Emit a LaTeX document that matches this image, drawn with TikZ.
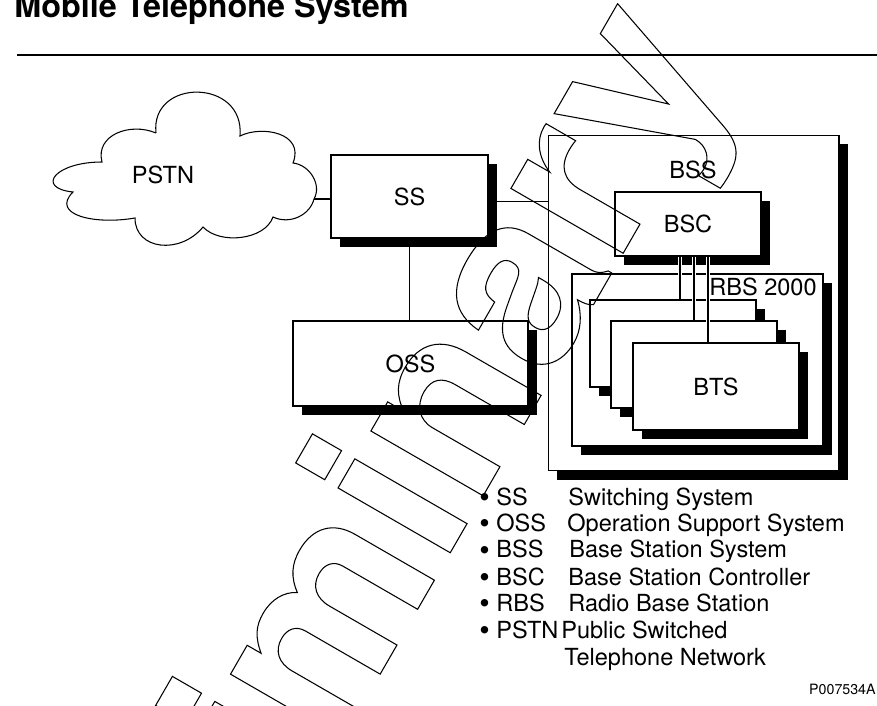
\documentclass[tikz,border=0pt]{standalone}
\usepackage{fontspec}
\setmainfont{TeX Gyre Heros}
\usetikzlibrary{positioning, calc, shadows}

\newcommand{\outlined}[1]{\special{pdf:literal direct 1 Tr 0.6 w}#1\special{pdf:literal direct 0 Tr}}
\newcommand{\bigdot}{{\fontsize{17}{17}\selectfont\raisebox{-1.5pt}{\textbullet}}}

\tikzset{
  every node/.style={font=\fontsize{13.4}{16}\selectfont},
  link/.style={line width=0.6pt},
  buslink/.style={link, preaction={draw=white, line width=2.4pt}},
  unit/.style={draw, fill=white, line width=0.6pt, inner sep=0pt, align=center,
    general shadow={fill=black, shadow xshift=0.18cm, shadow yshift=-0.18cm}},
  legend/.style={anchor=base west, inner sep=0pt},
  stamp/.style={anchor=base west, inner sep=0pt, rotate=60,
    font=\fontsize{136.6}{137}\selectfont\bfseries},
}

\begin{document}
\begin{tikzpicture}[x=0.02cm, y=-0.02cm]
  \useasboundingbox (0,0) rectangle (877,706);
  % heading
  \node[anchor=base west, inner sep=0pt, font=\fontsize{18.4}{20}\selectfont\bfseries]
    (title) at (14,18) {Mobile Telephone System};
  \draw[line width=0.9pt] (17,55) -- (877,55);
  % the PSTN cloud
  \draw[link] (156,133) .. controls (150,78) and (245,78) .. (240,136)
    .. controls (262,125) and (305,133) .. (293,163)
    .. controls (310,165) and (322,185) .. (314,199)
    .. controls (310,215) and (290,225) .. (273,217)
    .. controls (265,240) and (220,245) .. (203,227)
    .. controls (180,255) and (135,250) .. (135,218)
    .. controls (95,225) and (50,215) .. (73,192)
    .. controls (35,188) and (55,162) .. (102,162)
    .. controls (95,135) and (130,122) .. (156,133);
  \node (pstn) at (163,175) {PSTN};
  \coordinate (pstnport) at (314,199);
  % switching side
  \node[unit, minimum width=3.14cm, minimum height=1.66cm] (ss) at (409.5,196.5) {SS};
  \node[unit, minimum width=4.7cm, minimum height=1.7cm] (oss) at (410.5,363.5) {OSS};
  % base station side
  \node[unit, minimum width=5.82cm, minimum height=6.72cm] (bss) at (693.5,303) {};
  \node (bsslbl) at (693,170) {BSS};
  \node[unit, minimum width=2.92cm, minimum height=1.28cm] (bsc) at (688,224) {BSC};
  \node[unit, minimum width=5.02cm, minimum height=3.44cm] (rbs) at (697.5,360) {};
  \node[anchor=east, inner sep=0pt] (rbslbl) at (817,287) {RBS 2000};
  \node[unit, minimum width=3.32cm, minimum height=1.74cm] (bts1) at (673,343.5) {};
  \node[unit, minimum width=3.32cm, minimum height=1.74cm] (bts2) at (694,364.5) {};
  \node[unit, minimum width=3.32cm, minimum height=1.74cm] (bts3) at (716,386.5) {BTS};
  % links
  \draw[link] (pstnport) -- (pstnport -| ss.west);
  \draw[link] ([yshift=-0.1cm]ss.east) -- ([yshift=-0.1cm]ss.east -| bss.west);
  \draw[link] (ss.south) -- (ss.south |- oss.north);
  \draw[buslink] ([xshift=-0.16cm]bsc.south) -- ([xshift=-0.16cm]bsc.south |- bts1.north);
  \draw[buslink] ([xshift=0.12cm]bsc.south) -- ([xshift=0.12cm]bsc.south |- bts2.north);
  \draw[buslink] ([xshift=0.4cm]bsc.south) -- ([xshift=0.4cm]bsc.south |- bts3.north);
  % legend
  \node[legend] (k1) at (479,505) {\bigdot\ SS};
  \node[legend] (d1) at (568,505) {Switching System};
  \node[legend] (k2) at (479,531) {\bigdot\ OSS};
  \node[legend] (d2) at (567,531) {Operation Support System};
  \node[legend] (k3) at (479,558) {\bigdot\ BSS};
  \node[legend] (d3) at (569,558) {Base Station System};
  \node[legend] (k4) at (479,585) {\bigdot\ BSC};
  \node[legend] (d4) at (568,585) {Base Station Controller};
  \node[legend] (k5) at (479,611) {\bigdot\ RBS};
  \node[legend] (d5) at (568,611) {Radio Base Station};
  \node[legend] (k6) at (479,638) {\bigdot\ PSTN};
  \node[legend] (d6) at (561,638) {Public Switched};
  \node[legend] (d7) at (564,665) {Telephone Network};
  \node[anchor=base east, inner sep=0pt, font=\fontsize{8.1}{9}\selectfont] (fig) at (876,694) {P007534A};
  % watermark
  \node[stamp] (mark) at (74.6,1203.4) {\outlined{Preliminary}};
\end{tikzpicture}
\end{document}
